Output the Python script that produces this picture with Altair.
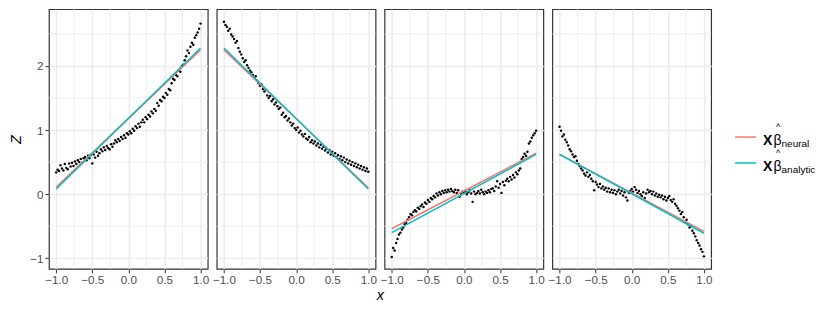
import altair as alt
import pandas as pd

# ---------------- data ----------------
X = [-1.00, -0.98, -0.96, -0.94, -0.92, -0.90, -0.88, -0.86, -0.84, -0.82,
     -0.80, -0.78, -0.76, -0.74, -0.72, -0.70, -0.68, -0.66, -0.64, -0.62,
     -0.60, -0.58, -0.56, -0.54, -0.52, -0.50, -0.48, -0.46, -0.44, -0.42,
     -0.40, -0.38, -0.36, -0.34, -0.32, -0.30, -0.28, -0.26, -0.24, -0.22,
     -0.20, -0.18, -0.16, -0.14, -0.12, -0.10, -0.08, -0.06, -0.04, -0.02,
     0.00, 0.02, 0.04, 0.06, 0.08, 0.10, 0.12, 0.14, 0.16, 0.18,
     0.20, 0.22, 0.24, 0.26, 0.28, 0.30, 0.32, 0.34, 0.36, 0.38,
     0.40, 0.42, 0.44, 0.46, 0.48, 0.50, 0.52, 0.54, 0.56, 0.58,
     0.60, 0.62, 0.64, 0.66, 0.68, 0.70, 0.72, 0.74, 0.76, 0.78,
     0.80, 0.82, 0.84, 0.86, 0.88, 0.90, 0.92, 0.94, 0.96, 0.98,
     1.00]

Z1 = [0.34, 0.38, 0.36, 0.45, 0.40, 0.37, 0.47, 0.41, 0.39, 0.48,
      0.43, 0.49, 0.44, 0.51, 0.47, 0.53, 0.50, 0.55, 0.49, 0.56,
      0.58, 0.53, 0.60, 0.56, 0.61, 0.48, 0.62, 0.57, 0.66, 0.60,
      0.64, 0.70, 0.67, 0.73, 0.69, 0.75, 0.72, 0.70, 0.78, 0.74,
      0.79, 0.84, 0.81, 0.86, 0.83, 0.89, 0.86, 0.92, 0.88, 0.95,
      0.93, 0.98, 0.95, 1.02, 0.99, 1.06, 1.03, 1.10, 1.05, 1.12,
      1.16, 1.12, 1.20, 1.17, 1.24, 1.21, 1.29, 1.26, 1.33, 1.30,
      1.42, 1.38, 1.47, 1.45, 1.52, 1.50, 1.58, 1.55, 1.64, 1.62,
      1.73, 1.80, 1.78, 1.86, 1.84, 1.93, 1.91, 2.00, 2.02, 2.09,
      2.15, 2.24, 2.20, 2.30, 2.36, 2.33, 2.44, 2.48, 2.52, 2.58,
      2.66]

Z2 = [2.69, 2.64, 2.61, 2.55, 2.58, 2.49, 2.46, 2.42, 2.36, 2.39,
      2.28, 2.22, 2.18, 2.12, 2.06, 2.09, 2.01, 1.97, 1.93, 1.90,
      1.86, 1.81, 1.84, 1.77, 1.73, 1.69, 1.71, 1.64, 1.60, 1.63,
      1.54, 1.50, 1.53, 1.45, 1.48, 1.40, 1.43, 1.37, 1.33, 1.35,
      1.24, 1.27, 1.20, 1.22, 1.15, 1.18, 1.12, 1.07, 1.10, 1.03,
      1.00, 1.04, 0.96, 0.99, 0.93, 0.90, 0.94, 0.87, 0.85, 0.89,
      0.81, 0.84, 0.79, 0.82, 0.76, 0.79, 0.73, 0.77, 0.71, 0.74,
      0.68, 0.71, 0.65, 0.69, 0.62, 0.66, 0.60, 0.64, 0.58, 0.61,
      0.55, 0.59, 0.53, 0.57, 0.50, 0.54, 0.48, 0.52, 0.46, 0.50,
      0.44, 0.48, 0.42, 0.46, 0.40, 0.44, 0.38, 0.42, 0.36, 0.40,
      0.35]

Z3 = [-0.98, -0.84, -0.88, -0.76, -0.70, -0.63, -0.60, -0.55, -0.52, -0.47,
      -0.45, -0.40, -0.36, -0.31, -0.33, -0.28, -0.25, -0.27, -0.21, -0.23,
      -0.19, -0.16, -0.20, -0.13, -0.15, -0.09, -0.12, -0.06, -0.08, -0.03,
      -0.05, 0.01, -0.02, 0.03, 0.00, 0.05, 0.02, 0.06, 0.03, 0.07,
      0.04, 0.08, 0.05, 0.03, 0.07, 0.02, 0.06, -0.04, 0.01, 0.04,
      0.02, 0.05, 0.00, 0.03, 0.06, 0.01, -0.12, 0.04, 0.00, 0.02,
      0.05, 0.01, 0.07, 0.03, 0.00, 0.04, 0.02, 0.06, 0.03, 0.08,
      0.09, 0.05, 0.12, 0.20, 0.10, 0.16, 0.02, 0.19, 0.14, 0.21,
      0.24, 0.20, 0.27, 0.23, 0.30, 0.26, 0.34, 0.31, 0.37, 0.40,
      0.55, 0.58, 0.63, 0.60, 0.66, 0.79, 0.82, 0.88, 0.92, 0.95,
      0.99]

Z4 = [1.05, 0.99, 0.90, 0.93, 0.85, 0.81, 0.76, 0.70, 0.67, 0.62,
      0.58, 0.59, 0.52, 0.47, 0.44, 0.40, 0.37, 0.32, 0.29, 0.34,
      0.27, 0.30, 0.24, 0.20, 0.06, 0.19, 0.15, 0.11, 0.16, 0.09,
      0.12, 0.07, 0.10, 0.04, 0.09, 0.03, 0.07, 0.02, 0.06, 0.00,
      0.04, 0.07, 0.01, 0.05, -0.02, 0.03, -0.05, -0.10, 0.02, 0.05,
      0.08, 0.04, 0.11, 0.07, 0.02, 0.05, 0.00, -0.03, 0.03, -0.06,
      0.01, 0.07, 0.03, 0.05, 0.00, 0.04, -0.02, 0.01, -0.04, -0.01,
      -0.05, -0.02, -0.08, -0.04, -0.10, -0.06, -0.03, -0.09, -0.12, -0.08,
      -0.15, -0.18, -0.22, -0.26, -0.31, -0.28, -0.36, -0.44, -0.40, -0.47,
      -0.52, -0.50, -0.57, -0.61, -0.66, -0.72, -0.76, -0.80, -0.86, -0.90,
      -0.97]

ZS = [Z1, Z2, Z3, Z4]

LINE_X = [-1.0, 1.0]
NEURAL = [[0.11, 2.25], [2.25, 0.10], [-0.54, 0.64], [0.62, -0.58]]
ANALYTIC = [[0.08, 2.28], [2.28, 0.08], [-0.60, 0.62], [0.62, -0.61]]

X_TICKS = [-1.0, -0.5, 0.0, 0.5, 1.0]
X_MINOR = [-0.75, -0.25, 0.25, 0.75]
Y_TICKS = [-1, 0, 1, 2]
Y_MINOR = [-0.5, 0.5, 1.5, 2.5]

MODELS = ["neural", "analytic"]
SUBS = ["neural", "analytic"]
COLORS = ["#F8766D", "#00BFC4"]

FONT = "Liberation Sans"
GRID = "#EBEBEB"

xs = alt.Scale(domain=[-1.1, 1.1], nice=False, zero=False)
ys = alt.Scale(domain=[-1.165, 2.885], nice=False, zero=False)


def make_panel(i):
    first = i == 0
    xaxis = alt.Axis(values=X_TICKS, format=".1f", title=None, grid=True,
                     gridColor=GRID, gridWidth=1.5, domain=False,
                     tickColor="#333333", tickSize=4, tickWidth=1,
                     labelColor="#4D4D4D", labelFontSize=11.7, labelPadding=2,
                     labelFont=FONT)
    if first:
        yaxis = alt.Axis(values=Y_TICKS, format="d", title="Z", grid=True,
                         gridColor=GRID, gridWidth=1.5, domain=False,
                         tickColor="#333333", tickSize=4, tickWidth=1,
                         labelColor="#4D4D4D", labelFontSize=11.7,
                         labelPadding=2, labelFont=FONT,
                         titleFont=FONT, titleFontSize=14.5,
                         titleFontStyle="italic", titleFontWeight="normal",
                         titleColor="black", titlePadding=6)
    else:
        yaxis = alt.Axis(values=Y_TICKS, title=None, grid=True,
                         gridColor=GRID, gridWidth=1.5, domain=False,
                         ticks=False, labels=False)

    pts = pd.DataFrame({"x": X, "z": ZS[i]})
    lines = pd.DataFrame({
        "x": LINE_X + LINE_X,
        "z": NEURAL[i] + ANALYTIC[i],
        "model": [MODELS[0]] * 2 + [MODELS[1]] * 2,
    })

    enc_x = alt.X("x:Q", scale=xs, axis=xaxis)
    enc_y = alt.Y("z:Q", scale=ys, axis=yaxis)

    minor_x = alt.Chart(pd.DataFrame({"x": X_MINOR})).mark_rule(
        color=GRID, strokeWidth=0.8).encode(x=enc_x)
    minor_y = alt.Chart(pd.DataFrame({"z": Y_MINOR})).mark_rule(
        color=GRID, strokeWidth=0.8).encode(y=enc_y)
    points = alt.Chart(pts).mark_circle(color="black", size=6, opacity=1).encode(
        x=enc_x, y=enc_y)
    l_neural = alt.Chart(lines).transform_filter(
        alt.datum.model == MODELS[0]).mark_line(
        color=COLORS[0], strokeWidth=1.5).encode(x=enc_x, y=enc_y)
    l_analytic = alt.Chart(lines).transform_filter(
        alt.datum.model == MODELS[1]).mark_line(
        color=COLORS[1], strokeWidth=1.5).encode(x=enc_x, y=enc_y)

    return alt.layer(minor_x, minor_y, points, l_neural, l_analytic).properties(
        width=159, height=260)


panels = alt.hconcat(
    *[make_panel(i) for i in range(4)], spacing=9, bounds="flush",
    title=alt.TitleParams("x", orient="bottom", anchor="middle", font=FONT,
                          fontSize=14.5, fontStyle="italic",
                          fontWeight="normal", color="black", offset=2,
                          dx=20))

# ---------------- legend ----------------
leg = pd.DataFrame({"model": MODELS, "sub": SUBS})
yleg = alt.Y("model:N", scale=alt.Scale(type="point", domain=MODELS,
                                         range=[128, 154], padding=0),
             axis=None)
base = alt.Chart(leg)
swatch = base.mark_rule(strokeWidth=1.5).encode(
    x=alt.value(0), x2=alt.value(21), y=yleg,
    color=alt.Color("model:N", scale=alt.Scale(domain=MODELS, range=COLORS),
                    legend=None))
t_x = base.mark_text(text="X", font=FONT, fontSize=14, fontWeight="bold",
                     align="left", baseline="alphabetic", dy=8,
                     color="black").encode(x=alt.value(28), y=yleg)
t_b = base.mark_text(text="β", font=FONT, fontSize=14, align="left",
                     baseline="alphabetic", dy=8, color="black").encode(
    x=alt.value(38.5), y=yleg)
t_h = base.mark_text(text="^", font=FONT, fontSize=9, align="center",
                     baseline="bottom", dy=-5, color="black").encode(
    x=alt.value(43), y=yleg)
t_s = base.mark_text(font=FONT, fontSize=10, align="left",
                     baseline="alphabetic", dy=10, color="black").encode(
    x=alt.value(46.5), y=yleg, text="sub:N")
legend = alt.layer(swatch, t_x, t_b, t_h, t_s).properties(
    width=75, height=260, view=alt.ViewBackground(stroke="transparent"))

chart = alt.hconcat(panels, legend, spacing=20).properties(
    padding={"left": 0, "top": 0, "right": 5, "bottom": 2},
    background="white",
).configure(font=FONT).configure_view(stroke="#333333", strokeWidth=1.2)

chart.save("out.html", embed_options={"renderer": "svg", "actions": False})
